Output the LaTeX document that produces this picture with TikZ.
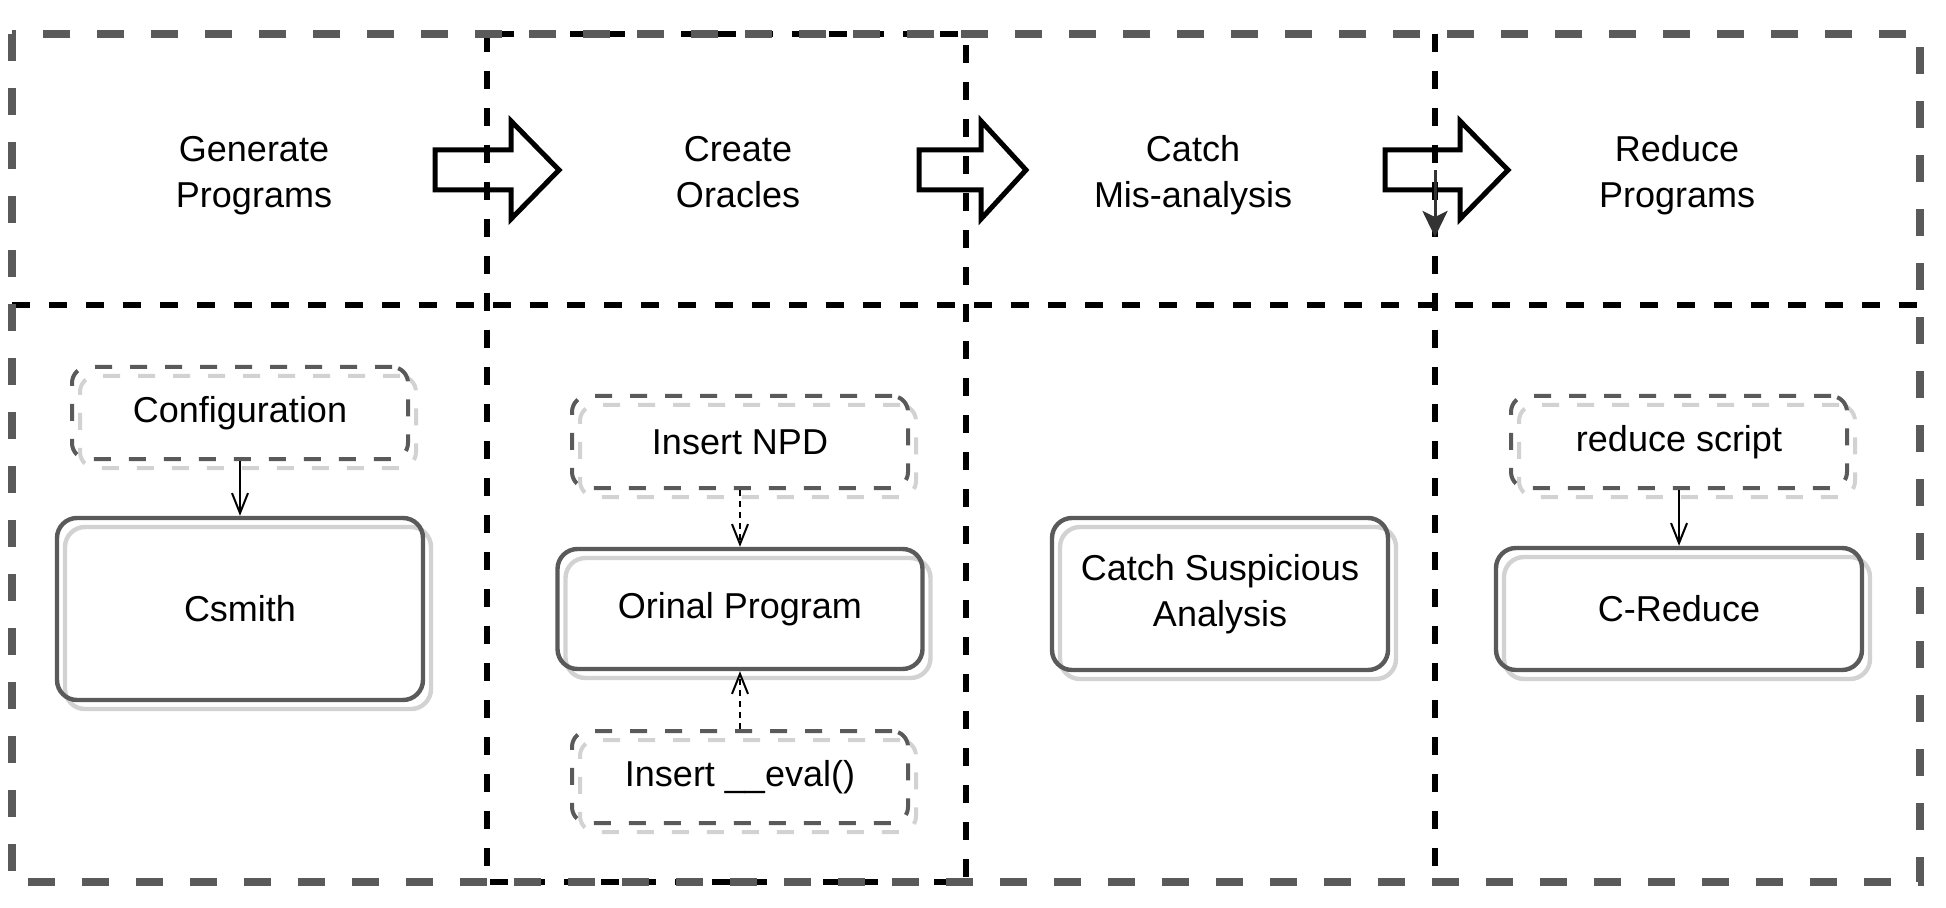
\documentclass[tikz,border=0pt]{standalone}
\usepackage{fontspec}
\setmainfont{Liberation Sans}
\usetikzlibrary{arrows.meta, shadows}

\definecolor{framegray}{HTML}{5A5A5A}
\definecolor{shadowgray}{HTML}{D2D2D2}

\begin{document}
\begin{tikzpicture}[x=0.5pt, y=-0.5pt,
  >={Straight Barb[length=10pt, width=8pt]},
  every node/.style={font={\fontsize{18pt}{23pt}\selectfont}, align=center},
  outerframe/.style={draw=framegray, line width=4pt, dash pattern=on 13.5pt off 13.5pt},
  laneline/.style={draw=black, line width=3pt, dash pattern=on 9pt off 9.5pt},
  stagearrow/.style={draw=black, line width=2.5pt, miter limit=10},
  toolbox/.style={draw=framegray, line width=2.2pt, rounded corners=10pt,
    general shadow={draw=shadowgray, line width=2.2pt, shadow xshift=4pt, shadow yshift=-4.5pt}},
  inputbox/.style={draw=framegray, line width=2pt, rounded corners=8pt,
    dash pattern=on 8.5pt off 9pt, minimum width=168pt, minimum height=46pt,
    general shadow={draw=shadowgray, line width=2pt, dash pattern=on 8.5pt off 9pt,
      shadow xshift=4pt, shadow yshift=-4.5pt}},
  link/.style={->, line width=1pt}]
\useasboundingbox (0,0) rectangle (1946,908);
% Lane separators
\draw[laneline] (487,34) rectangle (966,882);
\draw[laneline] (12,305) -- (1920,305);
\draw[laneline] (1435,34) -- (1435,882);
% The outer frame round the four stages
\draw[outerframe] (12,34) rectangle (1920,882);
% Stage titles
\node (gen) at (254,175) {Generate\strut\\Programs\strut};
\node (ora) at (738,175) {Create\strut\\Oracles\strut};
\node (cat) at (1193,175) {Catch\strut\\Mis-analysis\strut};
\node (red) at (1677,175) {Reduce\strut\\Programs\strut};
% Block arrows between the stages
\foreach \l/\b/\t in {435/511/559, 919/981/1026, 1385/1460/1508} {
  \draw[stagearrow] (\l,150) -- (\b,150) -- (\b,121) -- (\t,170)
    -- (\b,219) -- (\b,190) -- (\l,190) -- cycle;
}
% Stray arrow on the last separator
\coordinate (stray) at (1435,170);
\coordinate (strayend) at (1435,237);
\draw[-{Stealth[length=13pt, width=12.5pt, inset=3pt]}, line width=1.5pt, draw=black!80] (stray) -- (strayend);
% Tools and their inputs
\node[inputbox] (config) at (240,413) {Configuration};
\node[toolbox, minimum width=183pt, minimum height=91pt] (csmith) at (240,609) {Csmith};
\node[inputbox] (npd) at (740,442) {Insert NPD};
\node[toolbox, minimum width=182.5pt, minimum height=60pt] (orig) at (740,609) {Orinal Program};
\node[inputbox] (evalins) at (740,777) {Insert \_\_eval()};
\node[toolbox, minimum width=168pt, minimum height=76pt] (catch) at (1220,594) {Catch Suspicious\\Analysis};
\node[inputbox] (rscript) at (1679,442) {reduce script};
\node[toolbox, minimum width=183pt, minimum height=61pt] (creduce) at (1679,609) {C-Reduce};
% Connectors
\draw[link] (config) -- (csmith);
\draw[link, dash pattern=on 3pt off 2.5pt] (npd) -- (orig);
\draw[link, dash pattern=on 3pt off 2.5pt] (evalins) -- (orig);
\draw[link] (rscript) -- (creduce);
\end{tikzpicture}
\end{document}
